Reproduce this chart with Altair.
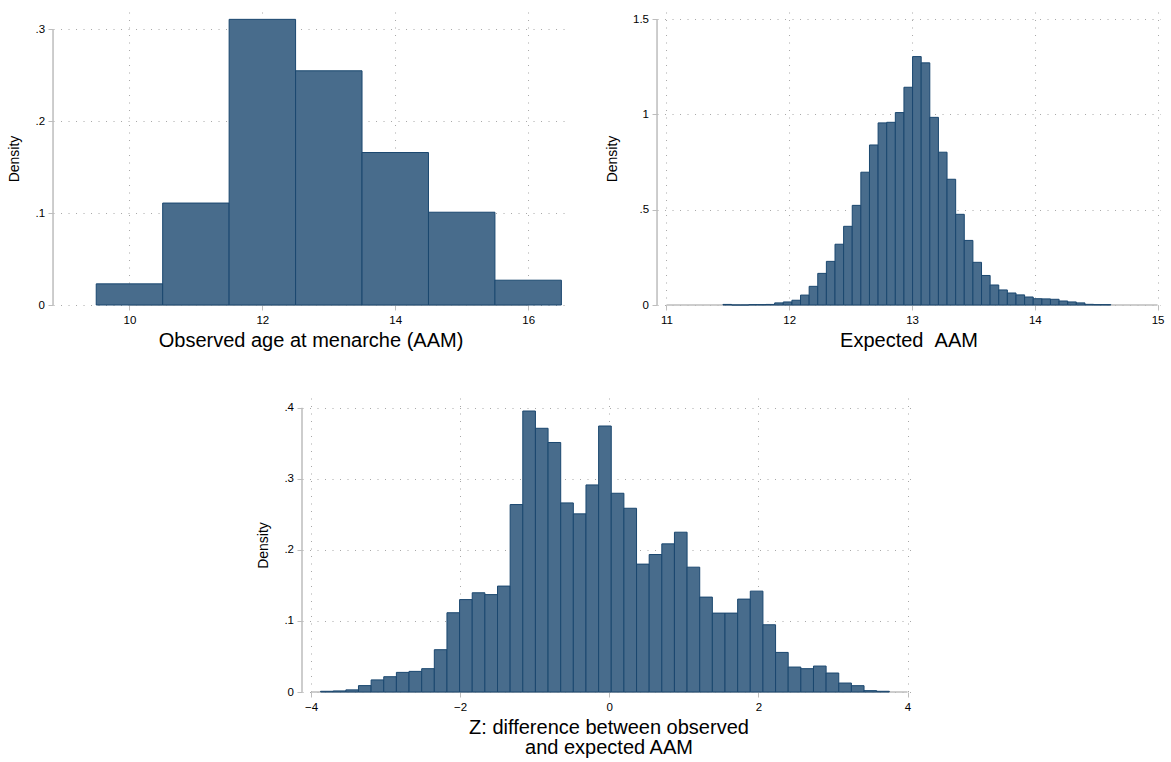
import altair as alt
import pandas as pd

# ---------------- data ----------------
# Panel 1: observed age at menarche, one-year bins centred on integer ages
obs_ages = [10, 11, 12, 13, 14, 15, 16]
obs_width = 1.0
obs_density = [0.023, 0.111, 0.311, 0.255, 0.166, 0.101, 0.027]

# Panel 2: expected AAM
exp_start = 11.46
exp_width = 0.0702
exp_density = [0.003, 0.0, 0.0, 0.002, 0.002, 0.003,
               0.011, 0.016, 0.025, 0.052, 0.098, 0.166, 0.229, 0.319, 0.413, 0.523,
               0.697, 0.840, 0.956, 0.959, 1.010, 1.143, 1.304, 1.271, 0.985, 0.802,
               0.660, 0.476, 0.339, 0.224, 0.155, 0.105, 0.079, 0.063, 0.053, 0.042,
               0.033, 0.032, 0.030, 0.021, 0.016, 0.011, 0.0035, 0.002, 0.002]

# Panel 3: Z difference
z_start = -3.872
z_width = 0.1695
z_density = [0.001, 0.0015, 0.003, 0.009, 0.017, 0.0215, 0.0276, 0.029, 0.0328, 0.0595,
             0.1115, 0.130, 0.1396, 0.137, 0.149, 0.2637, 0.3953, 0.371, 0.351, 0.266,
             0.2506, 0.2913, 0.3742, 0.2796, 0.2585, 0.1799, 0.1934, 0.2084, 0.2248, 0.1756,
             0.1335, 0.111, 0.111, 0.1307, 0.1419, 0.0946, 0.0557, 0.0351, 0.0328, 0.0365,
             0.0267, 0.0126, 0.0089, 0.0019, 0.001]

obs_xticks = [10, 12, 14, 16]
obs_yticks = [0, 0.1, 0.2, 0.3]
exp_xticks = [11, 12, 13, 14, 15]
exp_yticks = [0, 0.5, 1, 1.5]
z_xticks = [-4, -2, 0, 2, 4]
z_yticks = [0, 0.1, 0.2, 0.3, 0.4]

# ---------------- tables ----------------
obs_df = pd.DataFrame({
    "x0": [a - obs_width / 2 for a in obs_ages],
    "x1": [a + obs_width / 2 for a in obs_ages],
    "density": obs_density,
})
exp_df = pd.DataFrame({
    "x0": [exp_start + i * exp_width for i in range(len(exp_density))],
    "x1": [exp_start + (i + 1) * exp_width for i in range(len(exp_density))],
    "density": exp_density,
})
z_df = pd.DataFrame({
    "x0": [z_start + i * z_width for i in range(len(z_density))],
    "x1": [z_start + (i + 1) * z_width for i in range(len(z_density))],
    "density": z_density,
})
for d in (obs_df, exp_df, z_df):
    d["base"] = 0.0

# ---------------- style ----------------
FONT = "Liberation Sans"
FILL = "#486c8c"
EDGE = "#1a476f"
AXC = "#bdbdbd"
GRIDC = "#a8a8a8"
YFMT = "datum.value > 0 && datum.value < 1 ? substring(format(datum.value, '.1f'), 1) : format(datum.value, '~g')"


def panel(df, xdom, ydom, xticks, yticks, xtitle, w, h):
    xs = alt.Scale(domain=xdom, nice=False, zero=False)
    ys = alt.Scale(domain=ydom, nice=False, zero=False)
    xaxis = alt.Axis(values=xticks, grid=True, domain=False, title=xtitle,
                     labelExpr="format(datum.value, '~g')",
                     tickSize=5, tickColor=AXC, tickWidth=1,
                     labelPadding=4, labelFontSize=11.5, labelFont=FONT, labelColor="#000",
                     titlePadding=4.5, titleFontSize=20, titleFont=FONT,
                     titleFontWeight="normal", titleColor="#000", titleLineHeight=20,
                     gridColor=GRIDC, gridDash=[1, 6.5], gridWidth=1)
    yaxis = alt.Axis(values=yticks, grid=True, domain=False, title="Density",
                     labelExpr=YFMT,
                     tickSize=5, tickColor=AXC, tickWidth=1,
                     labelPadding=3.5, labelFontSize=11.5, labelFont=FONT, labelColor="#000",
                     titlePadding=13, titleFontSize=14, titleFont=FONT,
                     titleFontWeight="normal", titleColor="#000",
                     gridColor=GRIDC, gridDash=[1, 6.5], gridWidth=1)

    xline_df = pd.DataFrame({"x0": [xticks[0]], "x1": [xticks[-1]], "density": [0.0]})
    yline_df = pd.DataFrame({"x0": [xdom[0]], "density": [0.0], "base": [yticks[-1]]})

    xrule = alt.Chart(xline_df).mark_rule(color=AXC, strokeWidth=1.3).encode(
        x=alt.X("x0:Q", scale=xs, axis=xaxis), x2="x1:Q",
        y=alt.Y("density:Q", scale=ys, axis=yaxis))
    bars = alt.Chart(df).mark_rect(fill=FILL, stroke=EDGE, strokeWidth=1).encode(
        x=alt.X("x0:Q", scale=xs, axis=xaxis), x2="x1:Q",
        y=alt.Y("density:Q", scale=ys, axis=yaxis), y2="base:Q")
    yrule = alt.Chart(yline_df).mark_rule(color=AXC, strokeWidth=1.5).encode(
        x=alt.X("x0:Q", scale=xs, axis=xaxis),
        y=alt.Y("density:Q", scale=ys, axis=yaxis), y2="base:Q")
    return alt.layer(xrule, bars, yrule).properties(width=w, height=h)


p1 = panel(obs_df, [8.85, 16.6], [0, 0.319], obs_xticks, obs_yticks,
           "Observed age at menarche (AAM)", 515, 293)
p2 = panel(exp_df, [10.923, 15.02], [0, 1.538], exp_xticks, exp_yticks,
           "Expected \u00a0AAM", 503, 293)
p3 = panel(z_df, [-4.121, 4.1], [0, 0.4136], z_xticks, z_yticks,
           ["Z: difference between observed", "and expected AAM"], 613, 294)

top = alt.hconcat(p1, p2, spacing=37)
chart = alt.vconcat(top, p3, spacing=48, center=True).properties(
    padding={"left": 7, "top": 12, "right": 5, "bottom": 2},
    background="white",
).configure_view(stroke=None)

chart.save("out.html", embed_options={"renderer": "svg", "actions": False})
